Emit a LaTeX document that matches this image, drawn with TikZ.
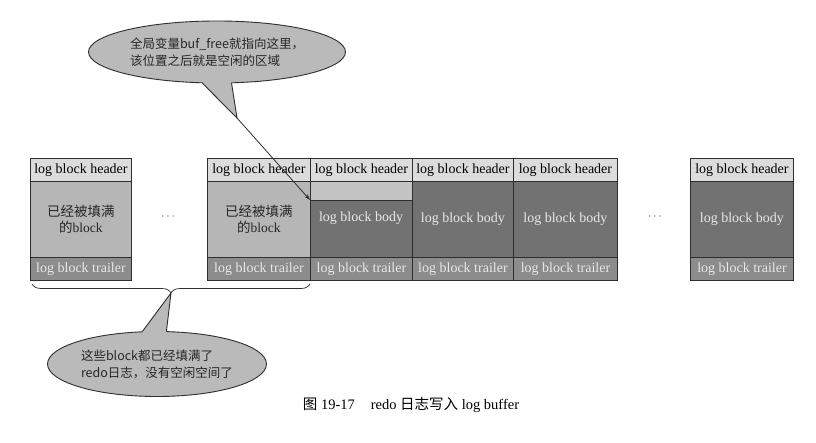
\documentclass[tikz,border=0pt]{standalone}
\usepackage{fontspec}
\setmainfont{Liberation Serif}
\newfontfamily\cjk{Noto Sans CJK SC}
\usetikzlibrary{shapes.geometric,decorations.pathreplacing,arrows.meta}
\definecolor{hdrc}{HTML}{DCDCDC}
\definecolor{fullc}{HTML}{B6B6B6}
\definecolor{trlc}{HTML}{8C8C8C}
\definecolor{darkc}{HTML}{727272}
\definecolor{freec}{HTML}{C4C4C4}
\definecolor{lightt}{HTML}{E8E8E8}
\definecolor{edgec}{HTML}{2E2E2E}
\definecolor{callc}{HTML}{BABABA}
\tikzset{
  cell/.style={draw=edgec, line width=0.9pt, rectangle, inner sep=0pt, anchor=north west,
    font=\fontsize{14}{15}\selectfont},
  hdrcell/.style={cell, fill=hdrc, text=black, minimum height=23pt},
  fullbody/.style={cell, fill=fullc, text=black!85, minimum height=76pt, align=center,
    font=\fontsize{13.5}{16}\selectfont},
  darkbody/.style={cell, fill=darkc, text=lightt, minimum height=76pt},
  trlcell/.style={cell, fill=trlc, text=lightt, minimum height=23pt},
  callout/.style={ellipse, draw=edgec, line width=0.9pt, fill=callc, inner sep=0pt},
  calltext/.style={align=left, inner sep=0pt, text=black!85, font=\cjk\fontsize{12.5}{17}\selectfont},
  dotsnode/.style={font=\fontsize{12}{14}\selectfont, text=black!70},
}
\newcommand{\blockcol}[3]{% name, x-left, width
  \node[hdrcell, minimum width=#3pt] (#1h) at (#2,158) {log block header};
  \node[darkbody, minimum width=#3pt] (#1b) at (#2,181) {log block body};
  \node[trlcell, minimum width=#3pt] (#1t) at (#2,257) {log block trailer};
}
\begin{document}
\begin{tikzpicture}[x=1pt,y=-1pt]
\useasboundingbox (0,0) rectangle (816,443);
\fill[white] (0,0) rectangle (816,443);

% block 1 (full)
\node[hdrcell, minimum width=101pt] (ah) at (30,158) {log block header};
\node[fullbody, minimum width=101pt] (ab) at (30,181) {{\cjk 已经被填满}\\{\cjk 的}block};
\node[trlcell, minimum width=101pt] (at) at (30,257) {log block trailer};

\node[dotsnode] (d1) at (168,217) {$\cdots$};

% block 2 (full)
\node[hdrcell, minimum width=103pt] (bh) at (207,158) {log block header};
\node[fullbody, minimum width=103pt] (bb) at (207,181) {{\cjk 已经被填满}\\{\cjk 的}block};
\node[trlcell, minimum width=103pt] (bt) at (207,257) {log block trailer};

% block 3 (partially filled)
\node[hdrcell, minimum width=102pt] (ch) at (310,158) {log block header};
\node[cell, fill=freec, minimum width=102pt, minimum height=19pt] (cf) at (310,181) {};
\node[darkbody, minimum width=102pt, minimum height=57pt] (cb) at (310,200) {};
\node[font=\fontsize{14}{15}\selectfont, text=lightt, inner sep=0pt] (cbtxt) at (361,218) {log block body};
\node[trlcell, minimum width=102pt] (ct) at (310,257) {log block trailer};

% blocks 4, 5, 6
\blockcol{e}{412}{101}
\blockcol{f}{513}{104}
\node[dotsnode] (d2) at (655,217) {$\cdots$};
\blockcol{g}{690}{103}

% callout 1
\node[callout, minimum width=257pt, minimum height=62pt] (c1) at (217,52) {};
\coordinate (c1tip) at (237,118);
\fill[callc] (c1.245) -- (c1tip) -- (c1.295) -- (c1.center) -- cycle;
\draw[edgec, line width=0.9pt] (c1.245) -- (c1tip) -- (c1.295);
\node[calltext] (c1txt) at (c1.center) {全局变量buf\_free就指向这里，\\该位置之后就是空闲的区域};
\draw[edgec, line width=0.8pt, -{Stealth[length=6pt,width=4pt]}] (c1tip) -- (cb.north west);

% brace
\coordinate (brL) at (32,284);
\coordinate (brR) at (310,284);
\draw[edgec, line width=0.7pt, decorate, decoration={brace, mirror, amplitude=9pt}] (brL) -- (brR);
\coordinate (brtip) at (171,293);

% callout 2
\node[callout, minimum width=219pt, minimum height=65pt] (c2) at (157,364) {};
\fill[callc] (c2.114) -- (brtip) -- (c2.74) -- (c2.center) -- cycle;
\draw[edgec, line width=0.9pt] (c2.114) -- (brtip) -- (c2.74);
\node[calltext] (c2txt) at (c2.center) {这些block都已经填满了\\redo日志，没有空闲空间了};

% caption
\node[font=\fontsize{14.5}{16}\selectfont] (cap) at (411,405)
  {{\cjk 图} 19-17\hspace{1.1em}redo {\cjk 日志写入} log buffer};
\end{tikzpicture}
\end{document}
